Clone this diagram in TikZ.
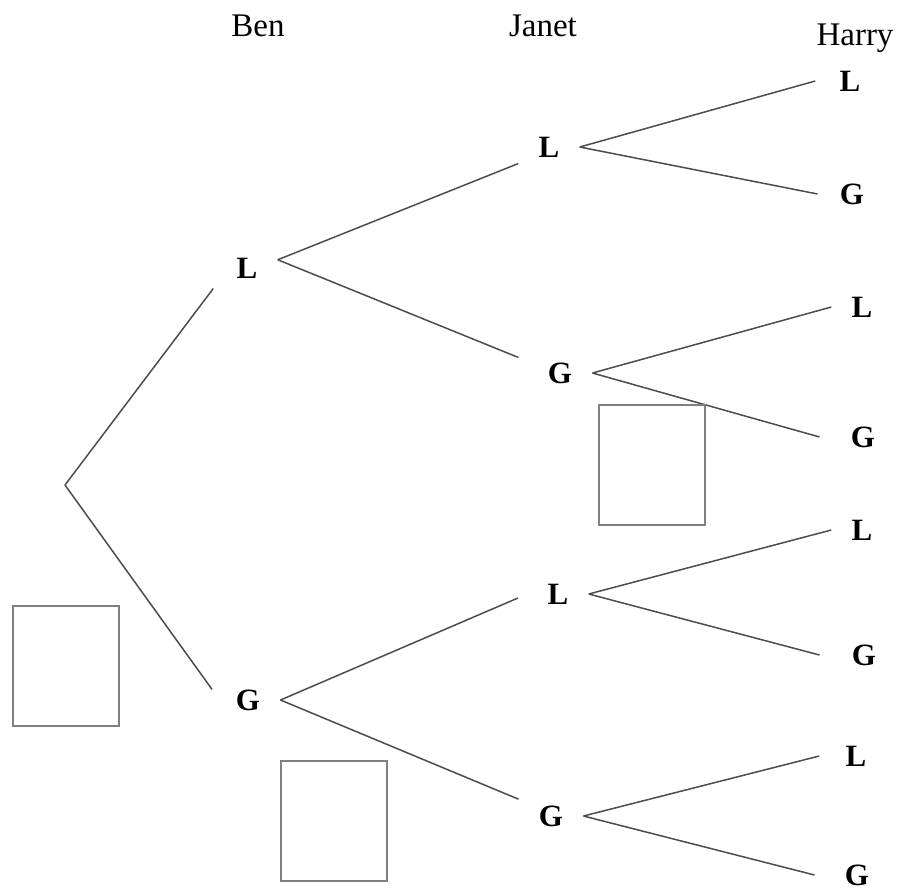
\documentclass[tikz,border=0pt]{standalone}
\usepackage{fontspec}
\setmainfont{Liberation Serif}
\begin{document}
\begin{tikzpicture}[x=0.5pt,y=-0.5pt,
                    outcome/.style={font=\fontsize{15.5}{18}\selectfont\bfseries,
                                    inner xsep=10pt,inner ysep=3pt},
                    leaf/.style={outcome,inner xsep=#1},
                    person/.style={font=\fontsize{16.5}{19}\selectfont,anchor=base},
                    branch/.style={draw=black!70,line width=0.75pt},
                    answer/.style={draw=black!50,line width=1pt,
                                   minimum width=53pt,minimum height=60pt}]
  \useasboundingbox (0,0) rectangle (898,890);
  % column headings
  \node[person] (ben) at (258,36) {Ben};
  \node[person] (janet) at (543,36) {Janet};
  \node[person] (harry) at (855,45) {Harry};
  % the tree
  \coordinate (root) at (65,485);
  \node[outcome] (bL) at (247,268) {L};
  \node[outcome] (bG) at (248,700) {G};
  \node[outcome] (jLL) at (549,147) {L};
  \node[outcome] (jLG) at (560,373) {G};
  \node[outcome] (jGL) at (558,594) {L};
  \node[outcome] (jGG) at (551,816) {G};
  \node[leaf=12pt] (hLLL) at (850,81) {L};
  \node[leaf=11pt] (hLLG) at (852,194) {G};
  \node[leaf=10pt] (hLGL) at (862,307) {L};
  \node[leaf=15.5pt] (hLGG) at (863,437) {G};
  \node[leaf=10pt] (hGLL) at (862,530) {L};
  \node[leaf=16pt] (hGLG) at (864,655) {G};
  \node[leaf=13pt] (hGGL) at (856,756) {L};
  \node[leaf=15pt,inner ysep=0pt] (hGGG) at (857,875) {G};
  \draw[branch,shorten >=2.5pt] (root) -- (bL.south west);
  \draw[branch,shorten >=3pt] (root) -- (bG.170);
  \draw[branch] (bL.15) -- (jLL.south west);
  \draw[branch,shorten >=5pt] (bL.15) -- (jLG.160);
  \draw[branch,shorten >=5pt] (bG.east) -- (jGL.west);
  \draw[branch] (bG.east) -- (jGG.north west);
  \draw[branch] (jLL.east) -- (hLLL.west);
  \draw[branch] (jLL.east) -- (hLLG.west);
  \draw[branch] (jLG.east) -- (hLGL.west);
  \draw[branch] (jLG.east) -- (hLGG.west);
  \draw[branch] (jGL.east) -- (hGLL.west);
  \draw[branch] (jGL.east) -- (hGLG.west);
  \draw[branch] (jGG.east) -- (hGGL.west);
  \draw[branch] (jGG.east) -- (hGGG.west);
  % empty boxes for the probabilities
  \node[answer] (box1) at (66,666) {};
  \node[answer] (box2) at (652,465) {};
  \node[answer] (box3) at (334,821) {};
\end{tikzpicture}
\end{document}
